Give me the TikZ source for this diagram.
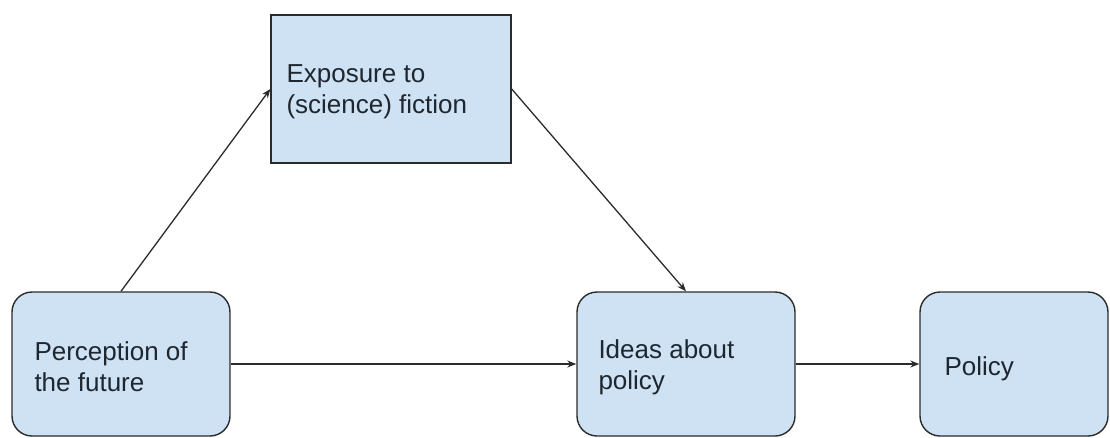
\documentclass[tikz,border=0pt]{standalone}
\usepackage{fontspec}
\setmainfont{Liberation Sans}
\usetikzlibrary{arrows.meta}
\definecolor{boxfill}{HTML}{CFE2F3}
\definecolor{boxline}{HTML}{2B2B2B}
\definecolor{ink}{HTML}{1E2630}
\tikzset{
  box/.style={draw=boxline, fill=boxfill, line width=1.4pt, inner sep=0pt},
  roundbox/.style={box, rounded corners=20pt},
  boxtext/.style={text=ink, font=\fontsize{26}{31}\selectfont, align=left,
    anchor=west, inner sep=0pt},
  link/.style={draw=boxline, line width=1.3pt,
    -{Stealth[length=9pt,width=7pt]}}
}
\begin{document}
\begin{tikzpicture}[x=1pt,y=-1pt]
\useasboundingbox (0,0) rectangle (1110,437);
% causal chain boxes
\node[roundbox, minimum width=218pt, minimum height=144pt] (perc) at (121,364) {};
\node[box, minimum width=240pt, minimum height=148pt] (expo) at (391,89) {};
\node[roundbox, minimum width=218pt, minimum height=144pt] (ideas) at (686,364) {};
\node[roundbox, minimum width=188pt, minimum height=144pt] (pol) at (1014,364) {};
% box captions, left aligned inside each box
\node[boxtext] (perc-t) at ([xshift=23pt,yshift=-3pt]perc.west) {Perception of\\the future};
\node[boxtext] (expo-t) at ([xshift=16pt,yshift=-3pt]expo.west) {Exposure to\\(science) fiction};
\node[boxtext] (ideas-t) at ([xshift=22pt,yshift=-3pt]ideas.west) {Ideas about\\policy};
\node[boxtext] (pol-t) at ([xshift=25pt,yshift=-5pt]pol.west) {Policy};
% connectors
\draw[link] (perc.north) -- (expo.west);
\draw[link] (expo.east) -- (ideas.north);
\draw[link] (perc.east) -- (ideas.west);
\draw[link] (ideas.east) -- (pol.west);
\end{tikzpicture}
\end{document}
